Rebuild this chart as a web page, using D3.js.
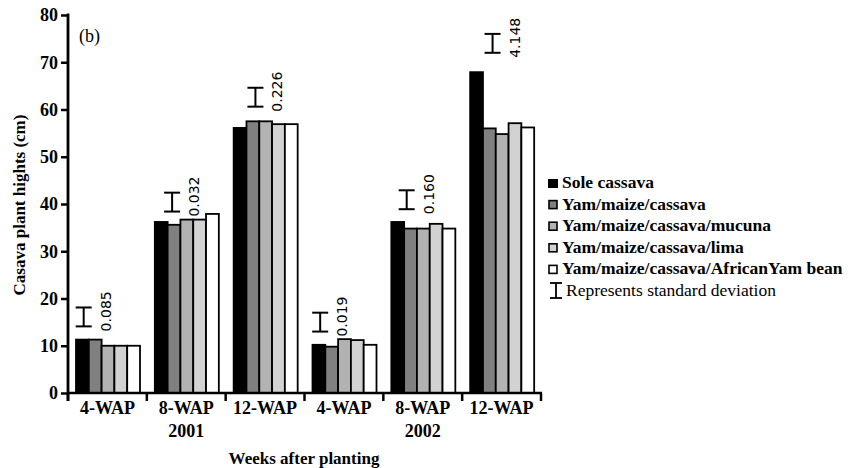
<!DOCTYPE html>
<html>
<head>
<meta charset="utf-8">
<script src="https://cdn.jsdelivr.net/npm/d3@7/dist/d3.min.js"></script>
<style>
  body { margin: 0; background: #fff; }
  svg text { font-family: "Liberation Serif", "Times New Roman", "DejaVu Serif", serif; }
</style>
</head>
<body>
<script>
  "use strict";

  // chart data
  var groups = ["4-WAP 2001", "8-WAP 2001", "12-WAP 2001", "4-WAP 2002", "8-WAP 2002", "12-WAP 2002"];
  var weekLabels = ["4-WAP", "8-WAP", "12-WAP", "4-WAP", "8-WAP", "12-WAP"];
  var years = ["2001", "2002"];
  var series = ["Sole cassava", "Yam/maize/cassava", "Yam/maize/cassava/mucuna",
                "Yam/maize/cassava/lima", "Yam/maize/cassava/AfricanYam bean"];
  var soleCassava = [11.3, 36.2, 56.1, 10.2, 36.2, 67.9];
  var yamMaize = [11.3, 35.6, 57.5, 9.8, 34.8, 56.0];
  var yamMucuna = [10.0, 36.7, 57.5, 11.4, 34.8, 54.8];
  var yamLima = [10.0, 36.7, 56.9, 11.2, 35.8, 57.1];
  var yamAYB = [10.0, 37.9, 56.9, 10.2, 34.8, 56.2];
  var sdLabels = ["0.085", "0.032", "0.226", "0.019", "0.160", "4.148"];
  // where the standard deviation mark sits (value of its middle)
  var sdCenter = [16.1, 40.4, 62.6, 15.0, 40.9, 74.0];
  var yTicks = [0, 10, 20, 30, 40, 50, 60, 70, 80];

  var values = [soleCassava, yamMaize, yamMucuna, yamLima, yamAYB];
  var colors = ["#000000", "#808080", "#b2b2b2", "#d2d2d2", "#ffffff"];
  // horizontal nudge of each sd mark, in bar widths from group's first bar
  var sdShift = [0.6, 1.35, 1.7, 0.6, 1.2, 1.75];
  var serif = "'Liberation Serif', 'Times New Roman', 'DejaVu Serif', serif";

  var W = 864, H = 468;
  var svg = d3.select("body").append("svg")
      .attr("width", W).attr("height", H)
      .style("font-family", serif);

  var x0 = d3.scaleBand().domain(groups).range([68, 541]).padding(0);
  var x1 = d3.scaleBand().domain(series).range([8, 72]).padding(0);
  var y = d3.scaleLinear().domain([0, 80]).range([393, 15]);

  // bars
  var g = svg.append("g");
  groups.forEach(function(grp, gi) {
    series.forEach(function(s, si) {
      var v = values[si][gi];
      g.append("rect")
        .attr("x", x0(grp) + x1(s))
        .attr("y", y(v))
        .attr("width", x1.bandwidth())
        .attr("height", y(0) - y(v))
        .attr("fill", colors[si])
        .attr("stroke", "#000")
        .attr("stroke-width", 1.8);
    });
  });

  // sd marks and labels
  var bw = x1.bandwidth();
  groups.forEach(function(grp, gi) {
    var cx = x0(grp) + 8 + sdShift[gi] * bw;
    var top = y(sdCenter[gi] + 2), bot = y(sdCenter[gi] - 2);
    var m = svg.append("g").attr("stroke", "#000").attr("stroke-width", 2);
    m.append("line").attr("x1", cx).attr("x2", cx).attr("y1", top).attr("y2", bot);
    m.append("line").attr("x1", cx - 8).attr("x2", cx + 8).attr("y1", top).attr("y2", top);
    m.append("line").attr("x1", cx - 8).attr("x2", cx + 8).attr("y1", bot).attr("y2", bot);
    svg.append("text")
      .attr("transform", "translate(" + (cx + 27) + "," + (bot + 5) + ")rotate(-90)")
      .attr("text-anchor", "start")
      .style("font-family", "'DejaVu Sans', sans-serif")
      .style("font-size", "14px")
      .text(sdLabels[gi]);
  });

  // y axis
  var yAxis = d3.axisLeft(y).tickValues(yTicks).tickSize(7).tickPadding(3);
  var ya = svg.append("g").attr("transform", "translate(68,0)").call(yAxis);
  ya.attr("font-family", null);
  ya.select(".domain").remove();
  ya.selectAll(".tick line").attr("stroke-width", 2.5);
  ya.selectAll(".tick text")
    .style("font-family", serif)
    .style("font-weight", "bold")
    .style("font-size", "18px")
    .attr("fill", "#000");
  svg.append("line").attr("x1", 68).attr("x2", 68).attr("y1", 13.5).attr("y2", 401)
    .attr("stroke", "#000").attr("stroke-width", 2.8);

  // x axis
  svg.append("line").attr("x1", 67).attr("x2", 542).attr("y1", 393).attr("y2", 393)
    .attr("stroke", "#000").attr("stroke-width", 2.5);
  var bounds = groups.map(function(d) { return x0(d); }).concat([541]);
  bounds.forEach(function(b) {
    svg.append("line").attr("x1", b).attr("x2", b).attr("y1", 393).attr("y2", 401)
      .attr("stroke", "#000").attr("stroke-width", 2.5);
  });
  groups.forEach(function(grp, gi) {
    svg.append("text")
      .attr("x", x0(grp) + x0.bandwidth() / 2)
      .attr("y", 414)
      .attr("text-anchor", "middle")
      .style("font-weight", "bold")
      .style("font-size", "18px")
      .text(weekLabels[gi]);
  });
  years.forEach(function(yr, i) {
    svg.append("text")
      .attr("x", x0(groups[i * 3 + 1]) + x0.bandwidth() / 2)
      .attr("y", 437)
      .attr("text-anchor", "middle")
      .style("font-weight", "bold")
      .style("font-size", "18px")
      .text(yr);
  });

  // titles
  svg.append("text")
    .attr("x", 304).attr("y", 464)
    .attr("text-anchor", "middle")
    .style("font-weight", "bold")
    .style("font-size", "17px")
    .text("Weeks after planting");
  svg.append("text")
    .attr("transform", "translate(25,205)rotate(-90)")
    .attr("text-anchor", "middle")
    .style("font-weight", "bold")
    .style("font-size", "17px")
    .text("Casava plant hights (cm)");
  svg.append("text")
    .attr("x", 79).attr("y", 42)
    .style("font-size", "18px")
    .text("(b)");

  // legend
  var leg = svg.append("g").attr("transform", "translate(548,0)");
  series.forEach(function(s, i) {
    var cy = 182 + i * 21.6;
    if (i === 0) {
      leg.append("rect").attr("x", 0).attr("y", cy - 3).attr("width", 10).attr("height", 9)
        .attr("fill", "#000");
    } else {
      leg.append("rect").attr("x", 1).attr("y", cy - 3).attr("width", 8).attr("height", 8)
        .attr("fill", colors[i]).attr("stroke", "#000").attr("stroke-width", 1.6);
    }
    leg.append("text")
      .attr("x", 14).attr("y", cy + 6)
      .style("font-weight", "bold")
      .style("font-size", "17.5px")
      .text(s);
  });
  var ly = 182 + 5 * 21.6;
  var lm = leg.append("g").attr("stroke", "#000").attr("stroke-width", 1.8);
  lm.append("line").attr("x1", 2).attr("x2", 14).attr("y1", ly - 7).attr("y2", ly - 7);
  lm.append("line").attr("x1", 8).attr("x2", 8).attr("y1", ly - 7).attr("y2", ly + 8);
  lm.append("line").attr("x1", 2).attr("x2", 14).attr("y1", ly + 8).attr("y2", ly + 8);
  leg.append("text")
    .attr("x", 18).attr("y", ly + 6)
    .style("font-size", "17.5px")
    .text("Represents standard deviation");
</script>
</body>
</html>
